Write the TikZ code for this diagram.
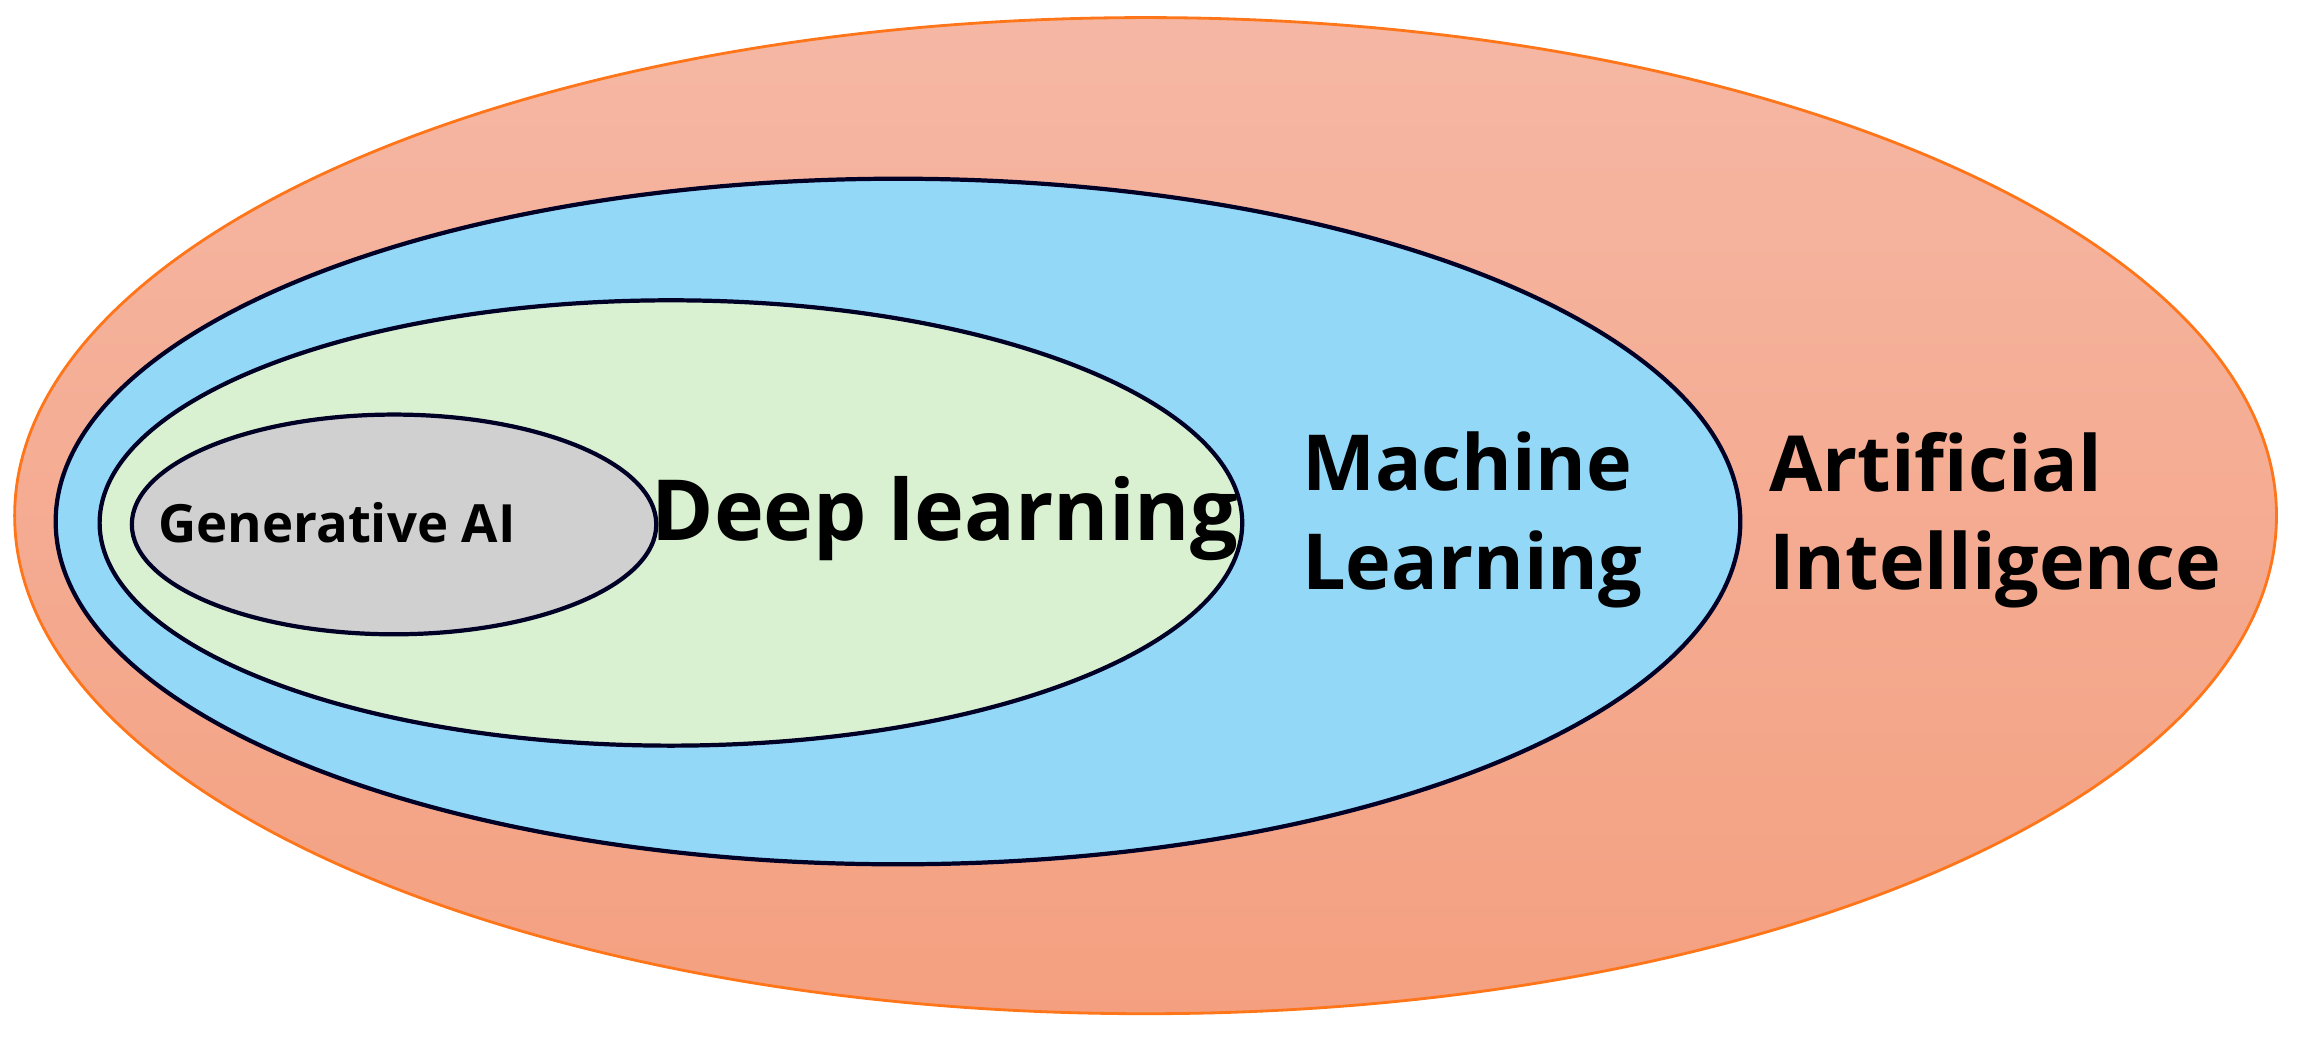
\documentclass[tikz,border=0pt]{standalone}
\usepackage{fontspec}
\setmainfont{Open Sans}
\begin{document}
\begin{tikzpicture}[x=0.01465cm,y=-0.01465cm,
 ring/.style={draw=black!85!blue,line width=1.2pt},
 lbl/.style={font=\bfseries,align=left,text=black}]
\useasboundingbox (0,0) rectangle (1568,711);
\definecolor{otop}{HTML}{F5B7A4}\definecolor{obot}{HTML}{F4A080}
\shade[top color=otop,bottom color=obot,draw=orange!80!red!90,line width=0.8pt] (782,352) ellipse [x radius=772,y radius=340];
\node[coordinate] (ai) at (782,352) {};
\fill[ring,fill={rgb,255:red,147;green,217;blue,247}] (613,356) ellipse [x radius=575,y radius=234];
\fill[ring,fill={rgb,255:red,217;green,241;blue,208}] (458,357) ellipse [x radius=390,y radius=152];
\fill[ring,fill={rgb,255:red,208;green,208;blue,208}] (269,358) ellipse [x radius=179,y radius=75];
\node[lbl,font=\bfseries\fontsize{15}{18}\selectfont] (gen) at (230,357) {Generative AI};
\node[lbl,font=\bfseries\fontsize{24}{28}\selectfont] (dl) at (645,354) {Deep learning};
\node[lbl,font=\bfseries\fontsize{22}{28}\selectfont] (ml) at (1005,355) {Machine\\Learning};
\node[lbl,font=\bfseries\fontsize{22}{28}\selectfont] (aitxt) at (1362,355) {Artificial\\Intelligence};
\end{tikzpicture}
\end{document}
